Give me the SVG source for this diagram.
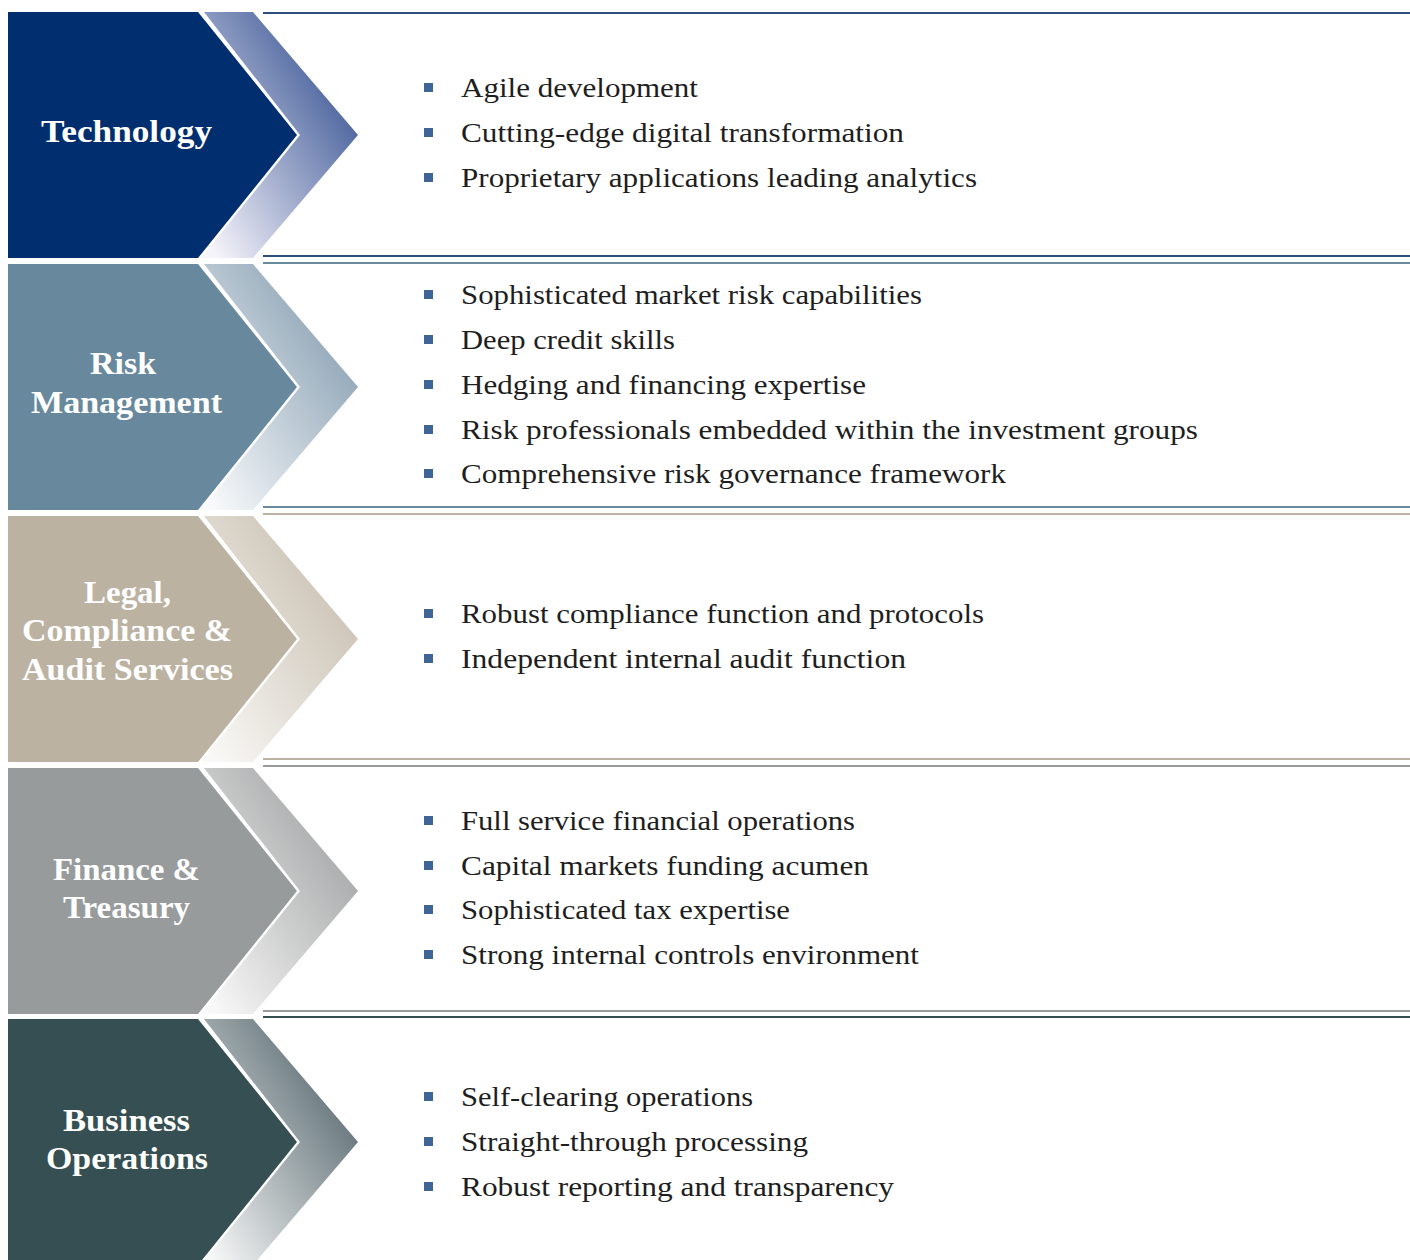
<svg xmlns="http://www.w3.org/2000/svg" width="1410" height="1260" viewBox="0 0 1410 1260">
<style>
.lbl{font-family:"Liberation Serif","DejaVu Serif",serif;font-weight:bold;font-size:32px;fill:#fff;text-anchor:middle}
.itm{font-family:"Liberation Serif","DejaVu Serif",serif;font-size:27px;fill:#1e1e1e}
.bul{fill:#3f6597}
</style>
<defs>
<linearGradient id="g1" x1="0.9" y1="0.2" x2="0.1" y2="1"><stop offset="0" stop-color="#3d5896"/><stop offset="1" stop-color="#f6f4fb"/></linearGradient>
<linearGradient id="g2" x1="0.9" y1="0.2" x2="0.1" y2="1"><stop offset="0" stop-color="#8aa1b3"/><stop offset="1" stop-color="#f7f9fb"/></linearGradient>
<linearGradient id="g3" x1="0.9" y1="0.2" x2="0.1" y2="1"><stop offset="0" stop-color="#c9c0b1"/><stop offset="1" stop-color="#f9f8f6"/></linearGradient>
<linearGradient id="g4" x1="0.9" y1="0.2" x2="0.1" y2="1"><stop offset="0" stop-color="#a3a4a5"/><stop offset="1" stop-color="#f8f8f8"/></linearGradient>
<linearGradient id="g5" x1="0.9" y1="0.2" x2="0.1" y2="1"><stop offset="0" stop-color="#5a6b71"/><stop offset="1" stop-color="#f6f7f7"/></linearGradient>
<rect id="b" width="9" height="9"/>
</defs>
<rect width="1410" height="1260" fill="#fff"/>

<g id="connectors">
<line x1="263" y1="13" x2="1410" y2="13" stroke="#2c4f80" stroke-width="2"/>
<line x1="263" y1="256" x2="1410" y2="256" stroke="#2c4f80" stroke-width="2"/>
<line x1="263" y1="263" x2="1410" y2="263" stroke="#6a8a9e" stroke-width="2"/>
<line x1="263" y1="507" x2="1410" y2="507" stroke="#6a8a9e" stroke-width="2"/>
<line x1="263" y1="514" x2="1410" y2="514" stroke="#bcb2a2" stroke-width="2"/>
<line x1="263" y1="759" x2="1410" y2="759" stroke="#bcb2a2" stroke-width="2"/>
<line x1="263" y1="766" x2="1410" y2="766" stroke="#979b9c" stroke-width="2"/>
<line x1="263" y1="1011" x2="1410" y2="1011" stroke="#979b9c" stroke-width="2"/>
<line x1="263" y1="1017" x2="1410" y2="1017" stroke="#364f52" stroke-width="2"/>
</g>

<g id="technology">
<polygon points="8,12 198,12 297,135 198,258 8,258" fill="#002e6e"/>
<polygon points="204,12 253,12 358,135 253,258 201,258 300,135" fill="url(#g1)"/>
<text class="lbl" x="126.5" y="142" textLength="171" lengthAdjust="spacingAndGlyphs">Technology</text>
<g class="bul"><use href="#b" x="424" y="83"/><use href="#b" x="424" y="128"/><use href="#b" x="424" y="173"/></g>
<text class="itm" x="461" y="97" textLength="237" lengthAdjust="spacingAndGlyphs">Agile development</text>
<text class="itm" x="461" y="142" textLength="443" lengthAdjust="spacingAndGlyphs">Cutting-edge digital transformation</text>
<text class="itm" x="461" y="187" textLength="516" lengthAdjust="spacingAndGlyphs">Proprietary applications leading analytics</text>
</g>

<g id="risk-management">
<polygon points="8,264 198,264 297,387 198,510 8,510" fill="#68899d"/>
<polygon points="204,264 253,264 358,387 253,510 201,510 300,387" fill="url(#g2)"/>
<text class="lbl" x="123" y="374" textLength="66" lengthAdjust="spacingAndGlyphs">Risk</text>
<text class="lbl" x="126.5" y="413" textLength="191" lengthAdjust="spacingAndGlyphs">Management</text>
<g class="bul"><use href="#b" x="424" y="290"/><use href="#b" x="424" y="335"/><use href="#b" x="424" y="380"/><use href="#b" x="424" y="425"/><use href="#b" x="424" y="469"/></g>
<text class="itm" x="461" y="304" textLength="461" lengthAdjust="spacingAndGlyphs">Sophisticated market risk capabilities</text>
<text class="itm" x="461" y="349" textLength="214" lengthAdjust="spacingAndGlyphs">Deep credit skills</text>
<text class="itm" x="461" y="394" textLength="405" lengthAdjust="spacingAndGlyphs">Hedging and financing expertise</text>
<text class="itm" x="461" y="439" textLength="737" lengthAdjust="spacingAndGlyphs">Risk professionals embedded within the investment groups</text>
<text class="itm" x="461" y="483" textLength="545" lengthAdjust="spacingAndGlyphs">Comprehensive risk governance framework</text>
</g>

<g id="legal-compliance">
<polygon points="8,516 198,516 297,639 198,762 8,762" fill="#bcb2a2"/>
<polygon points="204,516 253,516 358,639 253,762 201,762 300,639" fill="url(#g3)"/>
<text class="lbl" x="127.5" y="603" textLength="87" lengthAdjust="spacingAndGlyphs">Legal,</text>
<text class="lbl" x="127" y="641" textLength="210" lengthAdjust="spacingAndGlyphs">Compliance &amp;</text>
<text class="lbl" x="127.5" y="680" textLength="211" lengthAdjust="spacingAndGlyphs">Audit Services</text>
<g class="bul"><use href="#b" x="424" y="609"/><use href="#b" x="424" y="654"/></g>
<text class="itm" x="461" y="623" textLength="523" lengthAdjust="spacingAndGlyphs">Robust compliance function and protocols</text>
<text class="itm" x="461" y="668" textLength="445" lengthAdjust="spacingAndGlyphs">Independent internal audit function</text>
</g>

<g id="finance-treasury">
<polygon points="8,768 198,768 297,891 198,1014 8,1014" fill="#979b9c"/>
<polygon points="204,768 253,768 358,891 253,1014 201,1014 300,891" fill="url(#g4)"/>
<text class="lbl" x="126.5" y="880" textLength="147" lengthAdjust="spacingAndGlyphs">Finance &amp;</text>
<text class="lbl" x="126.5" y="918" textLength="127" lengthAdjust="spacingAndGlyphs">Treasury</text>
<g class="bul"><use href="#b" x="424" y="816"/><use href="#b" x="424" y="861"/><use href="#b" x="424" y="905"/><use href="#b" x="424" y="950"/></g>
<text class="itm" x="461" y="830" textLength="394" lengthAdjust="spacingAndGlyphs">Full service financial operations</text>
<text class="itm" x="461" y="875" textLength="408" lengthAdjust="spacingAndGlyphs">Capital markets funding acumen</text>
<text class="itm" x="461" y="919" textLength="329" lengthAdjust="spacingAndGlyphs">Sophisticated tax expertise</text>
<text class="itm" x="461" y="964" textLength="458" lengthAdjust="spacingAndGlyphs">Strong internal controls environment</text>
</g>

<g id="business-operations">
<polygon points="8,1019 198,1019 297,1142 198,1265 8,1265" fill="#364f52"/>
<polygon points="204,1019 253,1019 358,1142 253,1265 201,1265 300,1142" fill="url(#g5)"/>
<text class="lbl" x="126.5" y="1131" textLength="127" lengthAdjust="spacingAndGlyphs">Business</text>
<text class="lbl" x="127" y="1169" textLength="162" lengthAdjust="spacingAndGlyphs">Operations</text>
<g class="bul"><use href="#b" x="424" y="1092"/><use href="#b" x="424" y="1137"/><use href="#b" x="424" y="1182"/></g>
<text class="itm" x="461" y="1106" textLength="292" lengthAdjust="spacingAndGlyphs">Self-clearing operations</text>
<text class="itm" x="461" y="1151" textLength="347" lengthAdjust="spacingAndGlyphs">Straight-through processing</text>
<text class="itm" x="461" y="1196" textLength="433" lengthAdjust="spacingAndGlyphs">Robust reporting and transparency</text>
</g>
</svg>
